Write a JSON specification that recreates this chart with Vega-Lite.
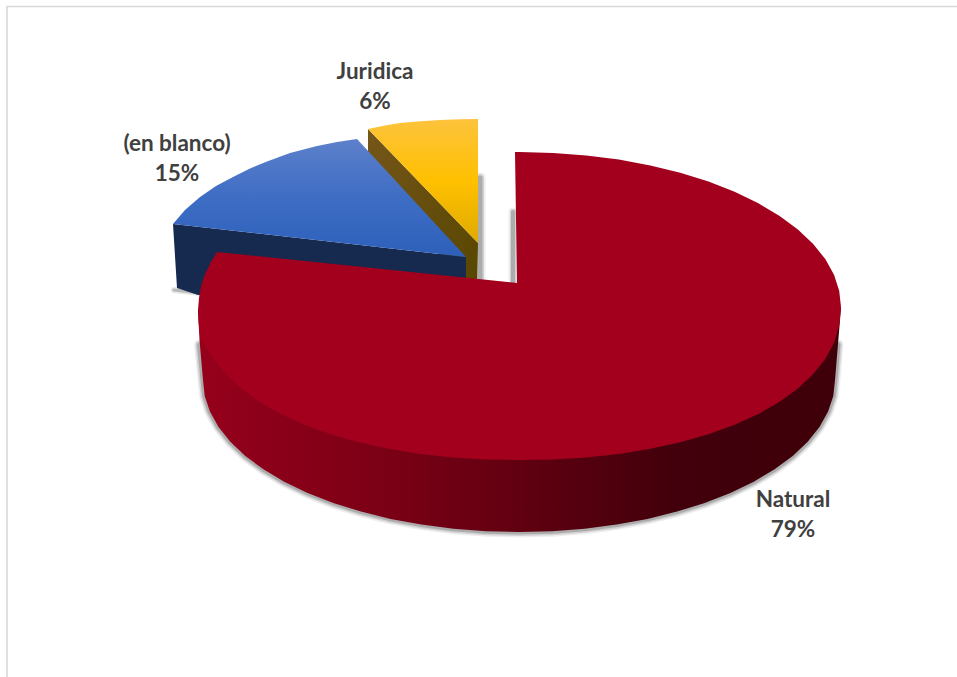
{
  "$schema": "https://vega.github.io/schema/vega-lite/v6.json",
  "width": 957,
  "height": 677,
  "padding": 0,
  "autosize": {"type": "none"},
  "background": "#ffffff",
  "config": {"view": {"stroke": null}},
  "datasets": {
    "frame": [{"i":0,"x":957,"y":6.5},{"i":1,"x":7,"y":6.5},{"i":2,"x":7,"y":677}],
    "goldShadow": [{"i":0,"x":480,"y":178},{"i":1,"x":480,"y":281}],
    "natShadow": [{"i":0,"x":513,"y":212},{"i":1,"x":513,"y":285}],
    "blueShadow": [{"i":0,"x":174,"y":290},{"i":1,"x":200,"y":293}],
    "goldSide": [{"i":0,"x":368,"y":129},{"i":1,"x":478,"y":243},{"i":2,"x":477,"y":283},{"i":3,"x":460,"y":283},{"i":4,"x":368,"y":152}],
    "goldTop": [{"i":0,"x":368,"y":129},{"i":1,"x":385,"y":125.5},{"i":2,"x":400,"y":123},{"i":3,"x":417,"y":121.5},{"i":4,"x":440,"y":120},{"i":5,"x":460,"y":119.3},{"i":6,"x":478,"y":119},{"i":7,"x":478,"y":243}],
    "blueSide": [{"i":0,"x":173,"y":224},{"i":1,"x":466,"y":257},{"i":2,"x":466,"y":285},{"i":3,"x":198,"y":295},{"i":4,"x":177,"y":288}],
    "blueTop": [{"i":0,"x":173,"y":224},{"i":1,"x":185,"y":210},{"i":2,"x":200,"y":197},{"i":3,"x":216,"y":186},{"i":4,"x":233,"y":177},{"i":5,"x":250,"y":168.5},{"i":6,"x":267,"y":161.5},{"i":7,"x":290,"y":153},{"i":8,"x":317,"y":146},{"i":9,"x":337,"y":142},{"i":10,"x":357,"y":139},{"i":11,"x":466,"y":257}],
    "rim": [
      {"i":0,"x":838,"y":345},{"i":1,"x":835,"y":380},{"i":2,"x":833.3,"y":395.9},{"i":3,"x":828.1,"y":411.6},{"i":4,"x":819.5,"y":427},{"i":5,"x":807.7,"y":441.8},{"i":6,"x":792.7,"y":456},{"i":7,"x":774.6,"y":469.3},{"i":8,"x":753.8,"y":481.7},{"i":9,"x":730.4,"y":493},{"i":10,"x":704.7,"y":503},{"i":11,"x":677,"y":511.6},{"i":12,"x":647.5,"y":518.9},{"i":13,"x":616.6,"y":524.6},{"i":14,"x":584.7,"y":528.7},{"i":15,"x":552,"y":531.2},{"i":16,"x":519,"y":532},{"i":17,"x":486,"y":531.2},{"i":18,"x":453.3,"y":528.7},{"i":19,"x":421.4,"y":524.6},{"i":20,"x":390.5,"y":518.9},{"i":21,"x":361,"y":511.6},{"i":22,"x":333.3,"y":503},{"i":23,"x":307.6,"y":493},{"i":24,"x":284.2,"y":481.7},{"i":25,"x":263.4,"y":469.3},{"i":26,"x":245.3,"y":456},{"i":27,"x":230.3,"y":441.8},{"i":28,"x":218.5,"y":427},{"i":29,"x":209.9,"y":411.6},{"i":30,"x":204.7,"y":395.9},{"i":31,"x":203,"y":380},{"i":32,"x":199.5,"y":345}
    ],
    "natSide": [
      {"i":0,"x":841,"y":308},{"i":1,"x":835,"y":380},{"i":2,"x":833.3,"y":395.9},{"i":3,"x":828.1,"y":411.6},{"i":4,"x":819.5,"y":427},{"i":5,"x":807.7,"y":441.8},{"i":6,"x":792.7,"y":456},{"i":7,"x":774.6,"y":469.3},{"i":8,"x":753.8,"y":481.7},{"i":9,"x":730.4,"y":493},{"i":10,"x":704.7,"y":503},{"i":11,"x":677,"y":511.6},{"i":12,"x":647.5,"y":518.9},{"i":13,"x":616.6,"y":524.6},{"i":14,"x":584.7,"y":528.7},{"i":15,"x":552,"y":531.2},{"i":16,"x":519,"y":532},{"i":17,"x":486,"y":531.2},{"i":18,"x":453.3,"y":528.7},{"i":19,"x":421.4,"y":524.6},{"i":20,"x":390.5,"y":518.9},{"i":21,"x":361,"y":511.6},{"i":22,"x":333.3,"y":503},{"i":23,"x":307.6,"y":493},{"i":24,"x":284.2,"y":481.7},{"i":25,"x":263.4,"y":469.3},{"i":26,"x":245.3,"y":456},{"i":27,"x":230.3,"y":441.8},{"i":28,"x":218.5,"y":427},{"i":29,"x":209.9,"y":411.6},{"i":30,"x":204.7,"y":395.9},{"i":31,"x":203,"y":380},{"i":32,"x":199.5,"y":340},{"i":33,"x":198,"y":310}
    ],
    "natTop": [
      {"i":0,"x":517,"y":283},{"i":1,"x":515,"y":152},{"i":2,"x":519.5,"y":152},{"i":3,"x":553.1,"y":152.9},{"i":4,"x":586.3,"y":155.4},{"i":5,"x":618.8,"y":159.6},{"i":6,"x":650.3,"y":165.4},{"i":7,"x":680.3,"y":172.8},{"i":8,"x":708.5,"y":181.6},{"i":9,"x":734.6,"y":191.8},{"i":10,"x":758.4,"y":203.3},{"i":11,"x":779.6,"y":215.9},{"i":12,"x":797.9,"y":229.5},{"i":13,"x":813.2,"y":244},{"i":14,"x":825.3,"y":259.1},{"i":15,"x":834,"y":274.8},{"i":16,"x":839.2,"y":290.8},{"i":17,"x":841,"y":307},
      {"i":18,"x":839.2,"y":325.7},{"i":19,"x":834,"y":342.8},{"i":20,"x":825.3,"y":358.9},{"i":21,"x":813.2,"y":374.1},{"i":22,"x":797.9,"y":388.5},{"i":23,"x":779.6,"y":401.7},{"i":24,"x":758.4,"y":413.9},{"i":25,"x":734.6,"y":424.7},{"i":26,"x":708.5,"y":434.2},{"i":27,"x":680.3,"y":442.3},{"i":28,"x":650.3,"y":448.8},{"i":29,"x":618.8,"y":453.9},{"i":30,"x":586.3,"y":457.4},{"i":31,"x":553.1,"y":459.4},{"i":32,"x":519.5,"y":460},
      {"i":33,"x":485.9,"y":459.4},{"i":34,"x":452.7,"y":457.4},{"i":35,"x":420.2,"y":453.9},{"i":36,"x":388.7,"y":448.8},{"i":37,"x":358.7,"y":442.3},{"i":38,"x":330.5,"y":434.2},{"i":39,"x":304.4,"y":424.7},{"i":40,"x":280.6,"y":413.9},{"i":41,"x":259.4,"y":401.7},{"i":42,"x":241.1,"y":388.5},{"i":43,"x":225.8,"y":374.1},{"i":44,"x":213.7,"y":358.9},{"i":45,"x":205,"y":346},{"i":46,"x":200,"y":335},{"i":47,"x":198.5,"y":322},{"i":48,"x":198,"y":310},{"i":49,"x":199,"y":298},{"i":50,"x":201,"y":286},{"i":51,"x":205,"y":274},{"i":52,"x":211,"y":262},{"i":53,"x":217,"y":252}
    ],
    "labels": [
      {"label":"Juridica\n6%","x":375,"y":72},
      {"label":"(en blanco)\n15%","x":177,"y":144},
      {"label":"Natural\n79%","x":793,"y":500}
    ]
  },
  "encoding": {
    "x": {"field": "x", "type": "quantitative", "axis": null, "scale": {"domain": [0, 957], "nice": false, "zero": false}},
    "y": {"field": "y", "type": "quantitative", "axis": null, "scale": {"domain": [0, 677], "nice": false, "zero": false, "reverse": true}},
    "order": {"field": "i", "type": "quantitative"}
  },
  "layer": [
    {"data": {"name": "frame"}, "mark": {"type": "line", "stroke": "#d9d9d9", "strokeWidth": 1.6}},

    {"data": {"name": "goldShadow"}, "mark": {"type": "line", "stroke": "#555555", "strokeWidth": 11, "opacity": 0.1, "strokeCap": "round"}},
    {"data": {"name": "goldShadow"}, "mark": {"type": "line", "stroke": "#555555", "strokeWidth": 8, "opacity": 0.18, "strokeCap": "round"}},
    {"data": {"name": "goldShadow"}, "mark": {"type": "line", "stroke": "#555555", "strokeWidth": 5, "opacity": 0.3, "strokeCap": "round"}},

    {"data": {"name": "goldSide"}, "mark": {"type": "line", "stroke": null, "fill": {"gradient": "linear", "x1": 0, "y1": 0, "x2": 1, "y2": 1, "stops": [{"offset": 0, "color": "#75561a"}, {"offset": 1, "color": "#584600"}]}}},
    {"data": {"name": "goldTop"}, "mark": {"type": "line", "stroke": null, "fill": {"gradient": "linear", "x1": 0, "y1": 0, "x2": 0, "y2": 1, "stops": [{"offset": 0, "color": "#fdc33c"}, {"offset": 0.5, "color": "#ffc000"}, {"offset": 1, "color": "#dfaa00"}]}}},

    {"data": {"name": "blueShadow"}, "mark": {"type": "line", "stroke": "#555555", "strokeWidth": 6, "opacity": 0.15, "strokeCap": "round"}},
    {"data": {"name": "blueShadow"}, "mark": {"type": "line", "stroke": "#555555", "strokeWidth": 3, "opacity": 0.3, "strokeCap": "round"}},
    {"data": {"name": "blueSide"}, "mark": {"type": "line", "stroke": null, "fill": "#16294f"}},
    {"data": {"name": "blueTop"}, "mark": {"type": "line", "stroke": null, "fill": {"gradient": "linear", "x1": 0, "y1": 0, "x2": 0, "y2": 1, "stops": [{"offset": 0, "color": "#5d80ca"}, {"offset": 0.5, "color": "#3e6dc4"}, {"offset": 1, "color": "#2d60ba"}]}}},

    {"data": {"name": "natShadow"}, "mark": {"type": "line", "stroke": "#555555", "strokeWidth": 9, "opacity": 0.1, "strokeCap": "round"}},
    {"data": {"name": "natShadow"}, "mark": {"type": "line", "stroke": "#555555", "strokeWidth": 6, "opacity": 0.18, "strokeCap": "round"}},
    {"data": {"name": "natShadow"}, "mark": {"type": "line", "stroke": "#555555", "strokeWidth": 4, "opacity": 0.3, "strokeCap": "round"}},

    {"data": {"name": "rim"}, "mark": {"type": "line", "stroke": "#555555", "strokeWidth": 11, "opacity": 0.1, "strokeCap": "round"}},
    {"data": {"name": "rim"}, "mark": {"type": "line", "stroke": "#555555", "strokeWidth": 8, "opacity": 0.18, "strokeCap": "round"}},
    {"data": {"name": "rim"}, "mark": {"type": "line", "stroke": "#555555", "strokeWidth": 5, "opacity": 0.3, "strokeCap": "round"}},

    {"data": {"name": "natSide"}, "mark": {"type": "line", "stroke": null, "fill": {"gradient": "linear", "x1": 0, "y1": 0, "x2": 1, "y2": 0, "stops": [{"offset": 0, "color": "#96001b"}, {"offset": 0.3, "color": "#7a0015"}, {"offset": 0.55, "color": "#5a000f"}, {"offset": 0.75, "color": "#41000b"}, {"offset": 1, "color": "#3f000a"}]}}},
    {"data": {"name": "natTop"}, "mark": {"type": "line", "stroke": null, "fill": "#a2001d"}},

    {"data": {"name": "labels"}, "mark": {"type": "text", "font": "Lato", "fontWeight": "bold", "fontSize": 22.5, "color": "#404040", "align": "center", "baseline": "middle", "lineBreak": "\n", "lineHeight": 29.5},
      "encoding": {"text": {"field": "label"}, "order": null}}
  ]
}
